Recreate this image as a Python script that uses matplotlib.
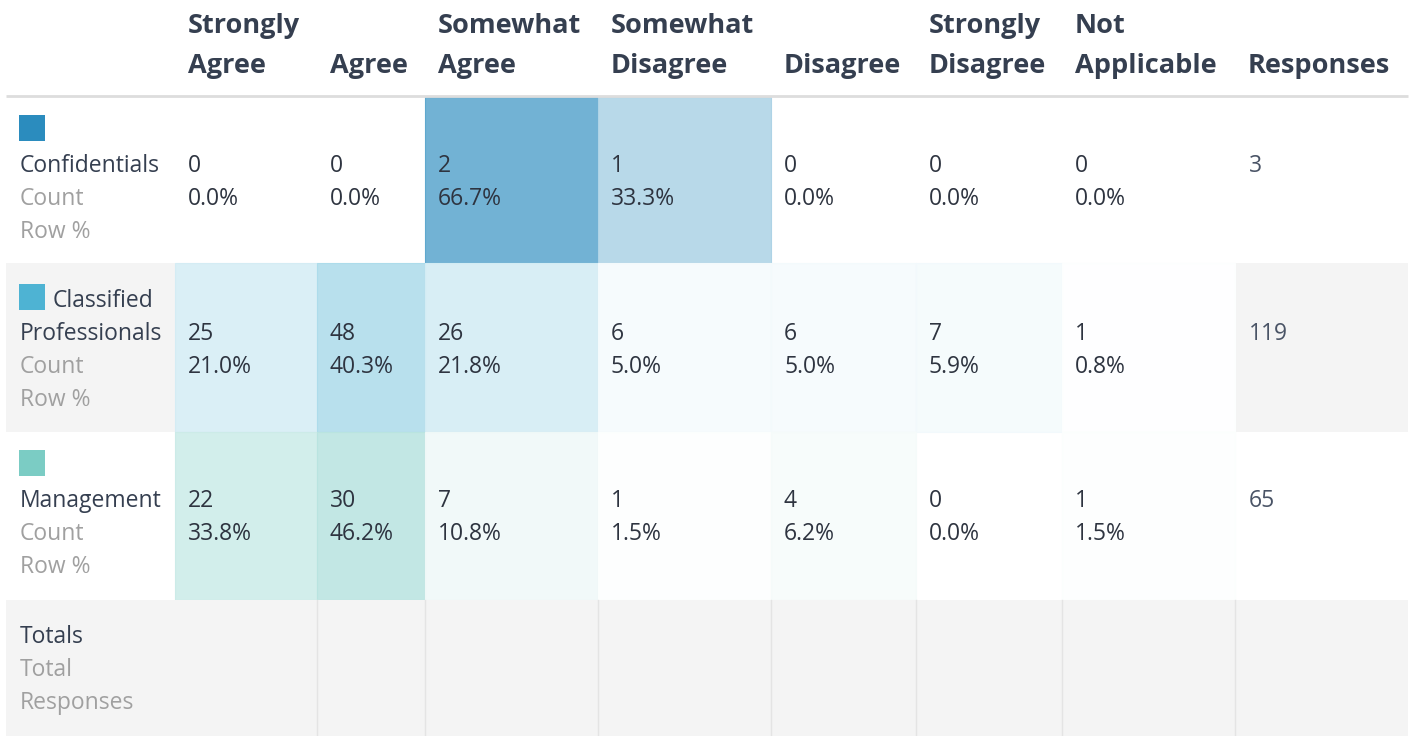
import matplotlib
matplotlib.use("Agg")
import matplotlib.pyplot as plt
from matplotlib.patches import Rectangle
from matplotlib.colors import to_rgb

# ---- data ----
columns = ["Strongly\nAgree", "\nAgree", "Somewhat\nAgree", "Somewhat\nDisagree",
           "\nDisagree", "Strongly\nDisagree", "Not\nApplicable"]
resp_header = "\nResponses"
groups = ["Confidentials", "Classified\nProfessionals", "Management"]
group_colors = ["#2b8cbe", "#4eb3d3", "#7bccc4"]
counts = [
    [0, 0, 2, 1, 0, 0, 0],
    [25, 48, 26, 6, 6, 7, 1],
    [22, 30, 7, 1, 4, 0, 1],
]
row_pct = [
    [0.0, 0.0, 66.7, 33.3, 0.0, 0.0, 0.0],
    [21.0, 40.3, 21.8, 5.0, 5.0, 5.9, 0.8],
    [33.8, 46.2, 10.8, 1.5, 6.2, 0.0, 1.5],
]
responses = [3, 119, 65]

# ---- layout (pixels) ----
W, H = 1416, 736
col_edges = [175, 317, 425, 598, 771, 916, 1062, 1235, 1408]
row_edges = [97, 263, 432, 600, 736]
left = 6

plt.rcParams['font.family'] = ['Open Sans', 'DejaVu Sans']
fig = plt.figure(figsize=(W / 100, H / 100), dpi=100)
ax = fig.add_axes([0, 0, 1, 1])
ax.set_xlim(0, W)
ax.set_ylim(H, 0)
ax.axis("off")

HEAD = "#353f50"
DARK = "#2e3440"
GREY = "#a0a0a0"
STRIPE = "#f4f4f4"
fs_head = 19.5
fs_body = 16.5
lh = 33

def txt(x, y, s, **kw):
    ax.text(x, y, s, va="baseline", ha="left", **kw)

# header
for i, name in enumerate(columns + [resp_header]):
    l1, l2 = name.split("\n")
    x = col_edges[i] + 13
    txt(x, 33, l1, fontsize=fs_head, fontweight="bold", color=HEAD)
    txt(x, 73, l2, fontsize=fs_head, fontweight="bold", color=HEAD)
ax.plot([left, col_edges[-1]], [96, 96], color="#dddddd", lw=2, solid_capstyle="butt")

# rows
for r, g in enumerate(groups):
    y0, y1 = row_edges[r], row_edges[r + 1]
    if r % 2 == 1:
        ax.add_patch(Rectangle((left, y0), col_edges[0] - left, y1 - y0, color=STRIPE, lw=0))
        ax.add_patch(Rectangle((col_edges[-2], y0), col_edges[-1] - col_edges[-2], y1 - y0, color=STRIPE, lw=0))
    base = to_rgb(group_colors[r])
    for c in range(len(columns)):
        a = row_pct[r][c] / 100.0
        if counts[r][c] > 0:
            fc = tuple(1 - a * (1 - v) for v in base)
            ec = tuple(1 - min(1, a * 1.12 + 0.01) * (1 - v) for v in base)
            ax.add_patch(Rectangle((col_edges[c], y0), col_edges[c + 1] - col_edges[c], y1 - y0,
                                   facecolor=fc, edgecolor=ec, lw=0.8))
    # legend square + labels
    lines = g.split("\n")
    if len(lines) == 1:
        ax.add_patch(Rectangle((19, y0 + 18), 26, 26, color=group_colors[r], lw=0))
        ty = y0 + 75
        txt(20, ty, lines[0], fontsize=fs_body, color=HEAD)
    else:
        ax.add_patch(Rectangle((19, y0 + 21), 26, 26, color=group_colors[r], lw=0))
        txt(53, y0 + 44, lines[0], fontsize=fs_body, color=HEAD)
        ty = y0 + 77
        txt(20, ty, lines[1], fontsize=fs_body, color=HEAD)
    txt(20, ty + lh, "Count", fontsize=fs_body, color=GREY)
    txt(20, ty + 2 * lh, "Row %", fontsize=fs_body, color=GREY)
    for c in range(len(columns)):
        x = col_edges[c] + 13
        txt(x, ty, str(counts[r][c]), fontsize=fs_body, color=DARK)
        txt(x, ty + lh, f"{row_pct[r][c]:.1f}%", fontsize=fs_body, color=DARK)
    txt(col_edges[-2] + 14, ty, str(responses[r]), fontsize=fs_body, color="#4a5466")

# totals row
y0, y1 = row_edges[3], row_edges[4]
ax.add_patch(Rectangle((left, y0), col_edges[-1] - left, y1 - y0, color=STRIPE, lw=0))
for xe in col_edges[1:-1]:
    ax.plot([xe, xe], [y0, y1], color="#e4e4e4", lw=1)
txt(20, y0 + 43, "Totals", fontsize=fs_body, color=HEAD)
txt(20, y0 + 43 + lh, "Total", fontsize=fs_body, color=GREY)
txt(20, y0 + 43 + 2 * lh, "Responses", fontsize=fs_body, color=GREY)

fig.savefig("out.png", dpi=100)
